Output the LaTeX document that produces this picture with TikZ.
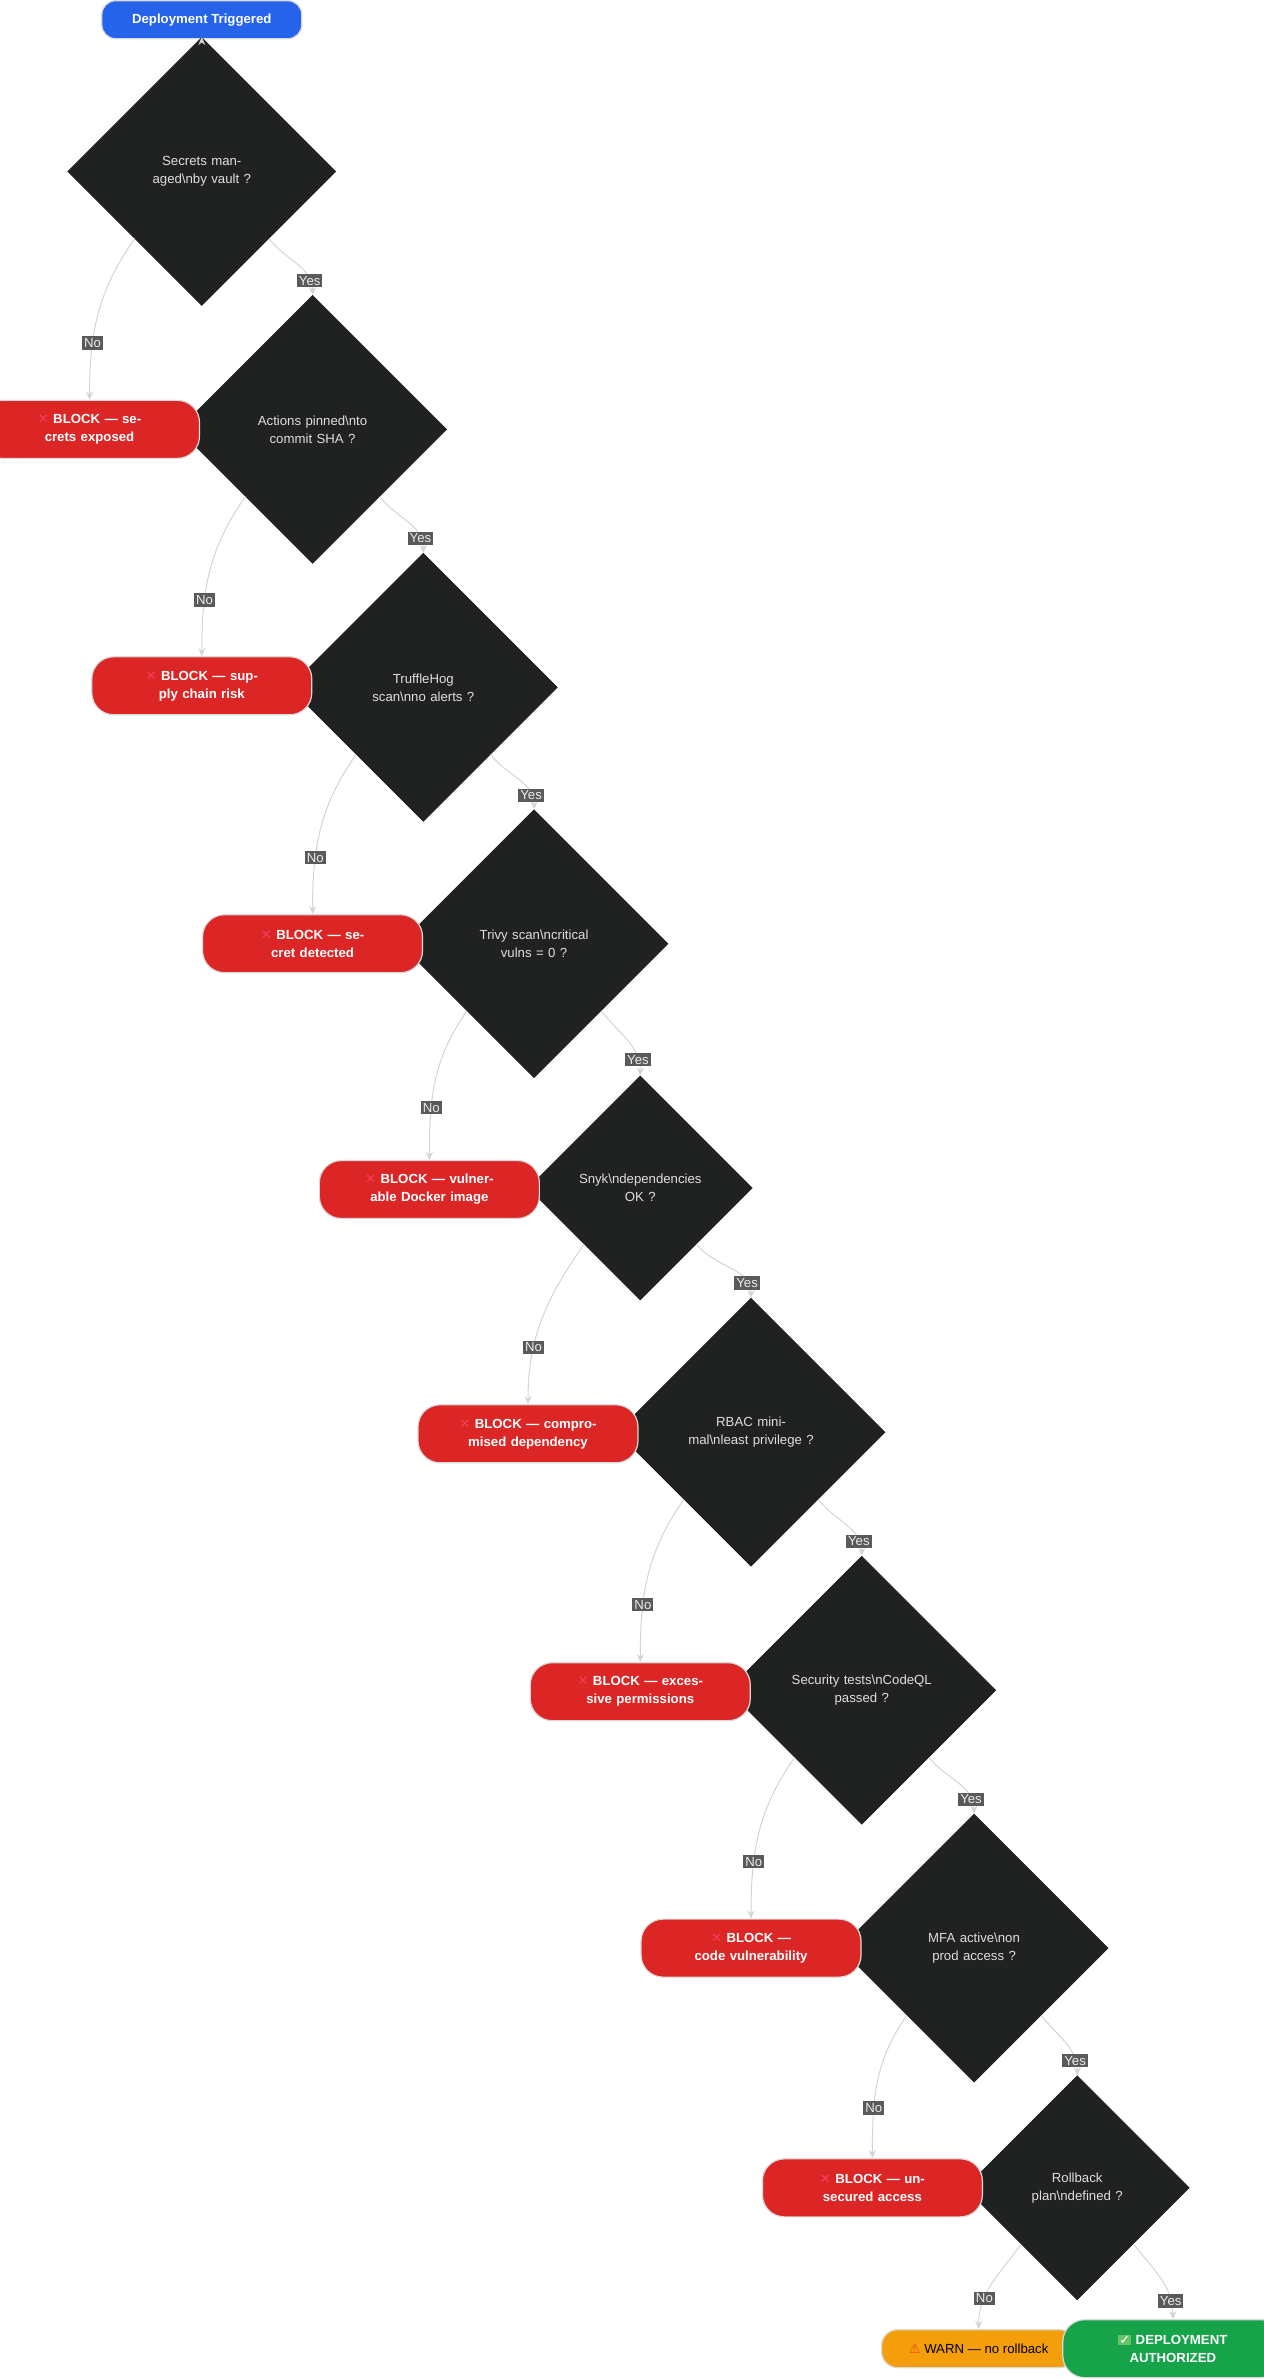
\documentclass[tikz,border=0pt]{standalone}
\usepackage{fontspec}
\setmainfont{Liberation Sans}
\newfontfamily\symf{DejaVu Sans}
\usetikzlibrary{shapes.geometric,arrows.meta}
\definecolor{dia}{HTML}{202221}
\definecolor{red1}{HTML}{DC2626}
\definecolor{blue1}{HTML}{2563EB}
\definecolor{green1}{HTML}{16A34A}
\definecolor{amb}{HTML}{F59E0B}
\definecolor{edge}{HTML}{D4D4D4}
\definecolor{lab}{HTML}{5A5A5A}
\definecolor{xpink}{HTML}{F43F5E}
\newcommand{\bs}{\textbackslash}
\newcommand{\xx}{{\symf\color{xpink}✕}\ }
\begin{document}
\begin{tikzpicture}[x=0.7587pt,y=-0.7587pt,
  font=\fontsize{6.6}{9}\selectfont,
  dec/.style={diamond,aspect=1,fill=dia,draw=dia,inner sep=0pt,minimum size=134,text=black!13,text width=72,align=center},
  decs/.style={dec,minimum size=112},
  term/.style={rectangle,rounded corners=11,fill=#1,draw=black!15,line width=0.6pt,text=white,font=\fontsize{6.6}{9}\selectfont\bfseries,align=center,minimum height=22.5},
  blk/.style={term=red1,minimum width=110,minimum height=29,text width=78},
  e/.style={draw=edge,line width=0.5pt,-{Stealth[length=4pt,width=3.5pt]}},
  lb/.style={fill=lab,text=black!8,inner sep=1pt,font=\fontsize{6.6}{8}\selectfont}]
\useasboundingbox (0,0) rectangle (833,1568);
\node[term=blue1,minimum width=100,minimum height=19,rounded corners=7] (s) at (133,13) {Deployment Triggered};
\node[dec] (d1) at (133,113) {Secrets managed\bs nby vault ?};
\node[dec] (d2) at (206,283) {Actions pinned\bs nto commit SHA ?};
\node[dec] (d3) at (279,453) {TruffleHog scan\bs nno alerts ?};
\node[dec] (d4) at (352,622) {Trivy scan\bs ncritical vulns = 0 ?};
\node[decs] (d5) at (422,783) {Snyk\bs ndependencies OK ?};
\node[dec] (d6) at (495,944) {RBAC minimal\bs nleast privilege ?};
\node[dec] (d7) at (568,1114) {Security tests\bs nCodeQL passed ?};
\node[dec] (d8) at (642,1284) {MFA active\bs non prod access ?};
\node[decs] (d9) at (710,1442) {Rollback plan\bs ndefined ?};
\node[blk] (b1) at (59,283) {\xx BLOCK — secrets exposed};
\node[blk] (b2) at (133,452) {\xx BLOCK — supply chain risk};
\node[blk] (b3) at (206,622) {\xx BLOCK — secret detected};
\node[blk] (b4) at (283,784) {\xx BLOCK — vulnerable Docker image};
\node[blk] (b5) at (348,945) {\xx BLOCK — compromised dependency};
\node[blk] (b6) at (422,1115) {\xx BLOCK — excessive permissions};
\node[blk] (b7) at (495,1284) {\xx BLOCK — code vulnerability};
\node[blk] (b8) at (575,1442) {\xx BLOCK — unsecured access};
\node[term=amb,text=black,font=\fontsize{6.6}{9}\selectfont,minimum width=97,minimum height=19,rounded corners=8] (w) at (645,1548) {{\symf\color{red1!70!amb}⚠}\ WARN — no rollback};
\node[term=green1,minimum width=110,minimum height=29,text width=78] (ok) at (773,1548) {{\symf\fboxsep=0.5pt\colorbox{green!60!black!60}{\color{white}✓}}\ DEPLOYMENT AUTHORIZED};
\draw[e] (s) -- (d1);
\foreach \d/\b/\n in {d1/b1/d2,d2/b2/d3,d3/b3/d4,d4/b4/d5,d5/b5/d6,d6/b6/d7,d7/b7/d8,d8/b8/d9,d9/w/ok}{
  \draw[e] (\d.south west) to[out=-125,in=90] node[lb,pos=0.68]{No} (\b.north);
  \draw[e] (\d.south east) to[out=-52,in=90] node[lb,pos=0.8]{Yes} (\n.north);
}
\end{tikzpicture}
\end{document}
